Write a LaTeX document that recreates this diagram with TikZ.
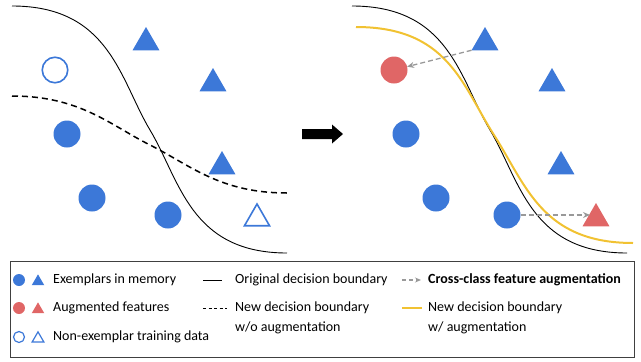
\documentclass[tikz,border=0pt]{standalone}
\usepackage{fontspec}
\setmainfont{Carlito}
\usetikzlibrary{shapes.geometric,arrows.meta}
\definecolor{cblue}{HTML}{3C78D8}
\definecolor{cred}{HTML}{E06666}
\definecolor{cyel}{HTML}{F1C232}
\definecolor{cgray}{HTML}{999999}
\begin{document}
\begin{tikzpicture}[x=1pt,y=-1pt,
  dot/.style={circle, fill=cblue, minimum size=27pt, inner sep=0pt, outer sep=0pt},
  odot/.style={circle, draw=cblue, line width=1.6pt, minimum size=25.5pt, inner sep=0pt, outer sep=0pt},
  tri/.style={regular polygon, regular polygon sides=3, fill=cblue, minimum size=31pt, inner sep=0pt, outer sep=0pt},
  otri/.style={regular polygon, regular polygon sides=3, draw=cblue, line width=1.6pt, minimum size=29pt, inner sep=0pt, outer sep=0pt},
  ldot/.style={circle, fill=cblue, minimum size=12pt, inner sep=0pt},
  lodot/.style={circle, draw=cblue, line width=1.2pt, minimum size=11pt, inner sep=0pt},
  ltri/.style={regular polygon, regular polygon sides=3, fill=cblue, minimum size=14.5pt, inner sep=0pt},
  lotri/.style={regular polygon, regular polygon sides=3, draw=cblue, line width=1.2pt, minimum size=13.5pt, inner sep=0pt},
  orig/.style={line width=0.9pt, black},
  newwo/.style={line width=1.5pt, black, dash pattern=on 6pt off 4pt},
  neww/.style={line width=2pt, cyel},
  aug/.style={line width=1.3pt, cgray, dash pattern=on 5pt off 3pt, -{Stealth[length=7pt,width=6pt]}},
  lbl/.style={anchor=west, inner sep=0pt, font=\fontsize{14}{20}\selectfont, align=left}
]
\useasboundingbox (0,0) rectangle (641,362);
% ---------- left panel ----------
\draw[orig] (12,6) .. controls (110,6) and (120,80) .. (150,130) .. controls (180,180) and (190,253) .. (287,253);
\draw[newwo] (12,96) .. controls (80,96) and (110,125) .. (150,145) .. controls (190,165) and (220,193) .. (287,193);
\node[odot] (lo1) at (55,70) {};
\node[dot] (lc1) at (67,134) {};
\node[dot] (lc2) at (92,198) {};
\node[dot] (lc3) at (168,215) {};
\node[tri] (lt1) at (146,42.5) {};
\node[tri] (lt2) at (213,83.5) {};
\node[tri] (lt3) at (222,166.5) {};
\node[otri] (lot) at (257,218.5) {};
% ---------- arrow ----------
\fill[black] (302,129) -- (332,129) -- (332,124.5) -- (343,134) -- (332,143.5) -- (332,139) -- (302,139) -- cycle;
% ---------- right panel ----------
\draw[orig] (352,6) .. controls (450,6) and (460,80) .. (490,130) .. controls (520,180) and (530,253) .. (627,253);
\draw[neww] (356,27) .. controls (448,27) and (462,85) .. (494,135) .. controls (526,185) and (542,243) .. (633,243);
\node[dot, fill=cred] (rr1) at (394,70) {};
\node[dot] (rc1) at (406,134) {};
\node[dot] (rc2) at (436,198) {};
\node[dot] (rc3) at (507,215) {};
\node[tri] (rt1) at (485,42.5) {};
\node[tri] (rt2) at (552,83.5) {};
\node[tri] (rt3) at (561,166.5) {};
\node[tri, fill=cred] (rrt) at (596,218.5) {};
\draw[aug] (rt1.corner 2) -- (rr1);
\coordinate (augend) at (590,215);
\draw[aug] (rc3.east) -- (augend);
% ---------- legend ----------
\node[draw=black!75, line width=0.8pt, minimum width=624pt, minimum height=96pt, inner sep=0pt, anchor=north west] (legend) at (10,261) {};
\node[ldot] (k1a) at (19,280) {};
\node[ltri] (k1b) at (38,281.6) {};
\node[lbl] (k1t) at (53,280) {Exemplars in memory};
\node[ldot, fill=cred] (k2a) at (19,308) {};
\node[ltri, fill=cred] (k2b) at (38,309.6) {};
\node[lbl] (k2t) at (53,308) {Augmented features};
\node[lodot] (k3a) at (19,337) {};
\node[lotri] (k3b) at (38,338.6) {};
\node[lbl] (k3t) at (53,337) {Non-exemplar training data};
\coordinate (m1a) at (203,280); \coordinate (m1b) at (222,280);
\draw[orig] (m1a) -- (m1b);
\node[lbl] (m1t) at (235,280) {Original decision boundary};
\coordinate (m2a) at (203,308); \coordinate (m2b) at (227,308);
\draw[line width=1pt, black, dash pattern=on 3pt off 2.5pt] (m2a) -- (m2b);
\node[lbl] (m2t) at (235,318) {New decision boundary\\w/o augmentation};
\coordinate (n1a) at (402,280); \coordinate (n1b) at (421,280);
\draw[line width=1.2pt, cgray, dash pattern=on 4pt off 3pt, -{Stealth[length=6pt,width=5pt]}] (n1a) -- (n1b);
\node[lbl, font=\fontsize{14}{20}\selectfont\bfseries] (n1t) at (428,280) {Cross-class feature augmentation};
\coordinate (n2a) at (402,308); \coordinate (n2b) at (422,308);
\draw[neww, line width=1.6pt] (n2a) -- (n2b);
\node[lbl] (n2t) at (428,318) {New decision boundary\\w/ augmentation};
\end{tikzpicture}
\end{document}
